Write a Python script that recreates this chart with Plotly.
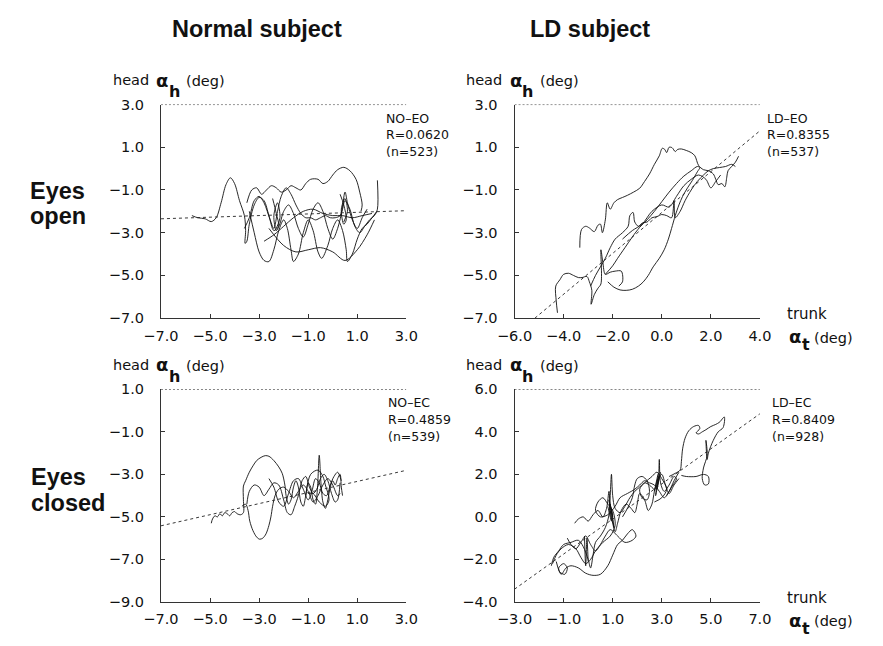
import plotly.graph_objects as go

# ---------------- trace data (trunk angle, head angle), degrees ----------------
# Normal subject, eyes open
no_eo_traces = [
    ([-5.74, -5.5, -5.2, -4.95, -4.75, -4.55, -4.35, -4.17, -4.0, -3.8, -3.6, -3.55, -3.57, -3.5, -3.4, -3.2, -3.0,
      -2.8, -2.6, -2.4, -2.2, -2.0, -1.8, -1.6, -1.4, -1.2, -1.0, -0.8, -0.6, -0.4, -0.2, 0.0, 0.2, 0.4, 0.5, 0.7,
      0.9, 1.1, 1.3, 1.5, 1.7, 1.82, 1.82],
     [-2.2, -2.3, -2.35, -2.48, -2.3, -1.6, -0.75, -0.43, -0.7, -1.5, -2.2, -2.9, -3.5, -3.4, -2.6, -1.7, -1.35,
      -1.5, -2.2, -2.9, -2.7, -2.0, -1.7, -2.1, -2.8, -3.2, -2.6, -1.9, -1.6, -2.0, -2.8, -3.3, -2.8, -1.9, -1.5, -1.9,
      -2.7, -3.0, -2.7, -2.4, -2.2, -1.9, -0.55]),
    ([-3.4, -3.2, -3.0, -2.8, -2.6, -2.4, -2.2, -2.0, -1.85, -1.7, -1.6, -1.4, -1.2, -1.0, -0.8, -0.6, -0.45, -0.2,
      0.0, 0.2, 0.4, 0.55, 0.6, 0.8, 1.0, 1.2, 1.4, 1.6, 1.8],
     [-2.0, -3.0, -3.9, -4.3, -4.35, -3.8, -2.9, -2.4, -2.8, -3.8, -4.35, -4.0, -3.0, -2.4, -2.9, -3.9, -4.2, -3.6,
      -2.8, -2.4, -2.9, -3.8, -4.35, -4.0, -3.3, -2.8, -2.6, -2.3, -2.0]),
    ([-3.5, -3.3, -3.1, -2.9, -2.7, -2.5, -2.3, -2.1, -1.9, -1.7, -1.5, -1.3, -1.1, -0.9, -0.6, -0.4, -0.2, 0.0,
      0.2, 0.45, 0.7, 0.95, 1.1, 1.2, 1.15],
     [-1.6, -1.0, -0.9, -1.2, -1.0, -0.8, -0.9, -1.1, -1.0, -0.8, -0.9, -1.0, -0.7, -0.5, -0.5, -0.7, -0.6, -0.3,
      -0.05, 0.06, -0.1, -0.5, -1.1, -1.7, -2.0]),
    ([-3.6, -3.4, -3.2, -3.0, -2.8, -2.55, -2.4, -2.25, -2.1, -1.9, -1.7, -1.5, -1.3, -1.1, -0.9, -0.7, -0.5, -0.3,
      -0.1, 0.1, 0.3, 0.5, 0.6, 0.8, 1.0, 1.2, 1.4],
     [-2.8, -2.3, -1.5, -1.3, -1.6, -2.4, -2.8, -2.0, -1.3, -0.9, -1.2, -1.7, -2.1, -2.3, -2.3, -2.4, -2.3, -2.2,
      -2.3, -2.3, -2.2, -1.1, -1.6, -2.4, -2.8, -2.3, -1.9]),
    ([-2.8, -2.4, -2.0, -1.6, -1.2, -0.8, -0.4, 0.0, 0.4, 0.8, 1.2, 1.6],
     [-3.4, -3.1, -2.7, -2.3, -2.0, -1.9, -2.1, -2.2, -2.2, -2.3, -2.2, -2.1]),
    ([-2.45, -2.3, -2.2, -2.3, -2.4, -2.25, -2.15, -2.3],
     [-1.4, -2.1, -2.7, -2.9, -2.2, -1.6, -2.3, -2.8]),
    ([0.3, 0.45, 0.55, 0.45, 0.35, 0.5, 0.6, 0.45],
     [-1.2, -1.7, -2.4, -2.6, -1.9, -1.4, -2.0, -2.5]),
    ([-2.6, -2.0, -1.5, -1.0, -0.5, 0.0, 0.5, 1.0, 1.4, 1.7],
     [-2.8, -3.6, -3.9, -3.8, -3.7, -3.9, -4.3, -3.8, -3.1, -2.4]),
]

# LD subject, eyes open
ld_eo_traces = [
    ([-3.34, -3.27, -3.1, -2.95, -2.75, -2.6, -2.5, -2.42, -2.3, -2.22, -2.1, -1.95, -1.8, -1.6, -1.4, -1.15, -0.9,
      -0.7, -0.5, -0.3, -0.1, 0.02, 0.12, 0.2, 0.3, 0.42, 0.55, 0.65, 0.8, 1.0, 1.2, 1.35, 1.5, 1.7, 1.9, 2.1, 2.2,
      2.3, 2.45, 2.57, 2.65, 2.7, 2.85, 3.0, 3.13],
     [-3.7, -2.85, -2.7, -2.78, -2.95, -2.65, -2.6, -3.0, -2.4, -1.6, -1.9, -1.6, -1.45, -1.35, -1.25, -1.1, -0.92,
      -0.6, -0.25, 0.2, 0.6, 0.95, 0.9, 0.75, 1.0, 0.98, 0.8, 0.9, 0.92, 0.85, 0.75, 0.6, 0.15, -0.05, -0.1, -0.25,
      -0.5, -0.75, -0.7, -0.85, -0.4, -0.1, 0.1, 0.3, 0.58]),
    ([-2.2, -1.95, -1.7, -1.45, -1.2, -0.95, -0.75, -0.55, -0.35, -0.1, 0.1, 0.27, 0.4, 0.55, 0.7, 0.85, 1.05,
      1.25, 1.45, 1.55, 1.45, 1.2, 0.9, 0.6, 0.3, 0.0, -0.3, -0.6, -0.9, -1.2, -1.5, -1.8, -2.0, -2.3],
     [-5.3, -5.55, -5.68, -5.7, -5.65, -5.5, -5.3, -5.0, -4.6, -4.2, -3.8, -3.3, -2.8, -2.2, -1.7, -1.3, -0.9,
      -0.55, -0.15, 0.05, 0.1, -0.1, -0.35, -0.7, -1.1, -1.55, -2.0, -2.4, -2.75, -3.2, -3.7, -4.2, -4.55, -4.95]),
    ([-4.25, -4.3, -4.32, -4.15, -4.0, -3.8, -3.6, -3.4, -3.25, -3.05, -2.95, -2.85, -2.88, -2.75, -2.6, -2.48,
      -2.48, -2.4, -2.3, -2.1, -1.9, -1.65, -1.6, -1.75],
     [-6.75, -6.2, -5.5, -5.2, -4.95, -4.9, -5.0, -5.1, -5.1, -5.05, -5.3, -5.7, -6.35, -5.9, -5.6, -5.4,
      -3.8, -4.4, -4.95, -4.85, -4.8, -4.8, -5.3, -5.5]),
    ([-2.9, -2.7, -2.5, -2.3, -2.1, -1.9, -1.6, -1.37, -1.3, -1.17, -1.1, -0.95, -0.8, -0.6, -0.4, -0.2, 0.0, 0.2,
      0.4, 0.5, 0.55, 0.75, 0.95, 1.2, 1.45, 1.7, 1.9, 2.1, 2.35, 2.6, 2.85, 3.0],
     [-5.5, -5.0, -4.6, -4.2, -3.7, -3.3, -3.0, -2.7, -2.2, -2.05, -2.5, -2.7, -2.55, -2.5, -2.3, -2.25, -2.15,
      -2.2, -2.3, -1.5, -2.3, -2.0, -1.5, -1.0, -0.6, -0.3, -0.1, 0.0, 0.05, 0.1, 0.2, 0.1]),
    ([-1.6, -1.2, -0.8, -0.4, 0.0, 0.3, 0.6, 0.9, 1.2, 1.5, 1.8, 2.0, 2.2, 2.4],
     [-3.3, -2.9, -2.6, -2.0, -1.7, -1.8, -1.3, -0.8, -0.5, -0.3, -0.5, -0.9, -0.6, -0.3]),
]

# Normal subject, eyes closed
no_ec_traces = [
    ([-4.95, -4.9, -4.8, -4.7, -4.6, -4.5, -4.4, -4.3, -4.2, -4.1, -4.0, -3.9, -3.75, -3.64, -3.64, -3.64, -3.55,
      -3.4, -3.25, -3.1, -2.92, -2.75, -2.6, -2.4, -2.2, -2.06, -1.95, -1.9, -1.8, -1.7, -1.6, -1.5, -1.4, -1.3,
      -1.2, -1.1, -1.0, -0.9, -0.8, -0.7, -0.62, -0.55, -0.48, -0.4, -0.3, -0.2, -0.1, 0.0, 0.1, 0.2, 0.3, 0.35, 0.4],
     [-5.3, -5.1, -4.95, -5.0, -4.85, -4.95, -4.8, -4.85, -4.95, -4.8, -4.75, -4.85, -4.9, -4.8, -4.2, -3.55, -3.3,
      -2.9, -2.6, -2.35, -2.2, -2.12, -2.15, -2.35, -2.65, -2.95, -3.5, -4.0, -4.4, -4.2, -3.6, -3.3, -3.6, -4.3,
      -4.5, -4.0, -3.4, -3.6, -4.2, -4.4, -3.6, -2.1, -3.4, -4.3, -4.6, -4.2, -3.6, -3.3, -3.5, -3.2, -3.0, -3.6, -4.0]),
    ([-3.7, -3.55, -3.45, -3.38, -3.25, -3.1, -2.98, -2.85, -2.72, -2.6, -2.52, -2.45, -2.35, -2.2, -2.0, -1.8,
      -1.6, -1.4, -1.2, -1.0, -0.8, -0.6, -0.4, -0.2, 0.0, 0.2, 0.3],
     [-4.5, -4.4, -4.7, -5.2, -5.65, -5.95, -6.05, -6.0, -5.8, -5.4, -5.0, -4.5, -4.0, -3.7, -3.6, -3.8,
      -4.1, -3.8, -3.5, -3.8, -4.3, -4.0, -3.5, -3.2, -3.5, -4.0, -3.9]),
    ([-3.5, -3.4, -3.2, -3.0, -2.8, -2.6, -2.4, -2.2, -2.0, -1.85, -1.7, -1.55, -1.4, -1.25, -1.1, -0.95, -0.8,
      -0.65, -0.5, -0.35, -0.2, -0.05, 0.1, 0.2, 0.3],
     [-4.4, -3.8, -3.5, -3.6, -4.0, -3.7, -3.4, -3.5, -4.2, -4.8, -4.9, -4.5, -4.0, -3.3, -3.1, -3.6, -3.9,
      -3.7, -3.2, -3.0, -3.3, -3.9, -4.3, -4.2, -3.4]),
    ([-1.1, -0.9, -0.6, -0.4, -0.3, -0.15, -0.3, -0.55, -0.8, -1.0],
     [-4.0, -3.0, -2.8, -3.1, -3.5, -4.2, -4.5, -4.3, -3.9, -3.9]),
    ([-2.6, -2.4, -2.2, -2.0, -1.8, -1.6, -1.4, -1.2, -1.0, -0.85, -0.7, -0.55, -0.4, -0.25, -0.1, 0.05, 0.2, 0.35],
     [-3.2, -3.6, -4.3, -4.5, -3.9, -3.3, -3.2, -3.7, -4.2, -3.8, -3.2, -3.4, -3.9, -4.0, -3.5, -3.1, -2.9, -3.3]),
]

# LD subject, eyes closed
ld_ec_traces = [
    ([3.3, 3.55, 3.75, 3.8, 3.85, 3.95, 4.1, 4.3, 4.5, 4.55, 4.4, 4.5, 4.65, 4.8, 5.0, 5.2, 5.35, 5.55, 5.5, 5.3,
      5.1, 4.9, 4.85, 4.8, 4.85, 4.7, 4.65, 4.75, 4.9, 4.9, 4.7, 4.4, 4.0, 3.8],
     [1.9, 2.05, 2.2, 2.6, 3.2, 3.7, 4.05, 4.25, 4.3, 4.15, 3.95, 3.9, 4.0, 4.1, 4.25, 4.35, 4.45, 4.7, 4.2, 4.0,
      3.6, 3.0, 2.7, 3.6, 2.9, 2.3, 1.8, 1.5, 1.55, 1.9, 2.0, 1.9, 1.9, 1.95]),
    ([-1.5, -1.4, -1.2, -1.0, -0.7, -0.4, -0.2, 0.0, 0.1, 0.2, 0.3, 0.5, 0.7, 0.85, 0.9, 0.95, 1.0, 1.1, 1.3,
      1.5, 1.7, 1.9, 2.1, 2.3, 2.5, 2.7, 2.85, 2.9, 2.95, 3.1, 3.3, 3.5, 3.6, 3.4, 3.2],
     [-2.3, -1.9, -1.6, -1.3, -1.2, -1.1, -1.4, -2.0, -2.4, -1.8, -1.2, -0.9, -0.5, 0.1, 1.0, 2.0, 1.0, 0.4, 0.2,
      0.5, 0.9, 1.2, 1.4, 1.6, 1.5, 1.3, 1.7, 2.7, 1.6, 1.2, 1.5, 1.9, 1.8, 1.4, 1.0]),
    ([-1.3, -1.1, -0.9, -0.7, -0.4, -0.1, 0.2, 0.5, 0.8, 1.0, 1.2, 1.4, 1.6, 1.8, 1.95, 1.8, 1.5, 1.2, 0.9, 0.7,
      0.5, 0.3, 0.1, -0.1, -0.3, -0.5, -0.7, -0.85],
     [-2.1, -2.7, -2.4, -2.3, -2.4, -2.65, -2.75, -2.7, -2.3, -1.8, -1.3, -1.1, -0.8, -0.6, -0.9, -1.1, -1.2, -0.9,
      -0.6, -0.9, -1.3, -1.6, -1.3, -0.9, -1.2, -1.5, -1.3, -1.0]),
    ([-0.55, -0.4, -0.2, 0.0, 0.2, 0.4, 0.6, 0.75, 0.85, 0.9, 1.0, 1.1, 1.2, 1.35, 1.55, 1.75, 1.9, 2.0, 2.1,
      2.3, 2.45, 2.6, 2.7, 2.85, 3.0, 3.15, 3.3, 3.5, 3.7],
     [-0.3, -0.1, 0.0, -0.2, 0.1, 0.3, 0.0, 0.4, 1.2, 0.3, -0.3, -0.7, -0.3, 0.3, 0.6, 0.4, 0.2, 0.6, 1.1,
      0.8, 0.3, 0.6, 1.2, 1.8, 2.0, 1.5, 1.1, 1.5, 1.8]),
    ([0.8, 0.95, 0.85, 1.0, 0.9, 1.05, 0.95],
     [0.5, -0.2, 0.8, 0.0, 0.6, -0.5, 0.4]),
    ([2.7, 2.85, 2.75, 2.9, 2.8, 2.95],
     [1.2, 2.0, 1.0, 1.9, 1.3, 2.1]),
    ([-0.15, -0.1, -0.05, 0.0],
     [-0.9, -2.3, -1.0, -2.1]),
    ([-1.45, -1.3, -1.1, -0.8, -0.5, -0.3, -0.1, 0.1, 0.3, 0.6, 0.9, 1.1, 1.0, 0.8, 0.6, 0.4, 0.3, 0.5, 0.8, 1.1,
      1.3, 1.6, 1.9, 2.1, 2.3, 2.5, 2.7, 2.9, 3.1, 3.3, 3.5, 3.7],
     [-2.2, -1.8, -1.5, -1.3, -1.5, -1.9, -2.2, -2.0, -1.6, -1.2, -0.9, -0.4, 0.3, 0.6, 0.9, 0.7, 0.3, 0.0, 0.1, 0.5,
      0.9, 1.1, 1.3, 1.5, 1.7, 1.6, 1.5, 1.2, 0.9, 1.2, 1.7, 2.1]),
    ([-1.2, -1.0, -0.85, -0.95, -1.15, -1.2],
     [-2.4, -2.2, -2.4, -2.7, -2.6, -2.4]),
    ([1.4, 1.6, 1.8, 1.9, 2.0, 2.2, 2.4, 2.5, 2.4, 2.2, 2.1, 2.3, 2.6, 2.8, 3.0, 3.2, 3.0, 2.7],
     [0.0, 0.4, 0.9, 1.5, 1.8, 1.9, 1.7, 1.2, 0.8, 0.9, 1.3, 1.6, 1.9, 2.1, 1.8, 1.3, 0.9, 0.7]),
]

# Regression line end points (trunk, head)
fit_no_eo = ([-7.0, 3.0], [-2.35, -1.97])
fit_ld_eo = ([-5.17, 4.0], [-7.0, 1.77])
fit_no_ec = ([-7.0, 3.0], [-5.42, -2.81])
fit_ld_ec = ([-3.0, 7.0], [-3.4, 4.85])

# Axis tick values (first and last also give the axis range)
x_ticks_no = [-7.0, -5.0, -3.0, -1.0, 1.0, 3.0]
x_ticks_ld_eo = [-6.0, -4.0, -2.0, 0.0, 2.0, 4.0]
x_ticks_ld_ec = [-3.0, -1.0, 1.0, 3.0, 5.0, 7.0]
y_ticks_eo = [-7.0, -5.0, -3.0, -1.0, 1.0, 3.0]
y_ticks_no_ec = [-9.0, -7.0, -5.0, -3.0, -1.0, 1.0]
y_ticks_ld_ec = [-4.0, -2.0, 0.0, 2.0, 4.0, 6.0]

panel_labels = [
    ["NO–EO", "R=0.0620", "(n=523)"],
    ["LD–EO", "R=0.8355", "(n=537)"],
    ["NO–EC", "R=0.4859", "(n=539)"],
    ["LD–EC", "R=0.8409", "(n=928)"],
]

W, H = 883, 646
FONT = "DejaVu Sans"
INK = "#111"
TICK_FONT = dict(family=FONT, size=14.5, color=INK)


def px_x(p):
    return p / W


def px_y(p):
    return 1 - p / H


def label(x, y, text, size, family=FONT, bold=False, xanchor="left"):
    return dict(x=px_x(x), y=px_y(y), xref="paper", yref="paper", xanchor=xanchor, yanchor="middle",
                showarrow=False, text=text, borderpad=0,
                font=dict(family=family, size=size, color=INK, weight="bold" if bold else "normal"))


panels = [
    # traces, fit, xticks, yticks, x pixel span, y pixel span, stats x position
    (no_eo_traces, fit_no_eo, x_ticks_no, y_ticks_eo, (148, 402), (99, 318), 380),
    (ld_eo_traces, fit_ld_eo, x_ticks_ld_eo, y_ticks_eo, (514, 768), (99, 318), 774),
    (no_ec_traces, fit_no_ec, x_ticks_no, y_ticks_no_ec, (148, 402), (391, 609), 382),
    (ld_ec_traces, fit_ld_ec, x_ticks_ld_ec, y_ticks_ld_ec, (514, 768), (391, 609), 779),
]

fig = go.Figure()
layout = {}
annotations = []

for i, (traces, fit, xt, yt, xs, ys, sx) in enumerate(panels):
    n = "" if i == 0 else str(i + 1)
    xa, ya = "x" + n, "y" + n
    for tx, ty in traces:
        fig.add_trace(go.Scatter(x=tx, y=ty, mode="lines", xaxis=xa, yaxis=ya,
                                 line=dict(color=INK, width=0.9, shape="spline", smoothing=0.9),
                                 hoverinfo="skip"))
    # regression line
    fig.add_trace(go.Scatter(x=fit[0], y=fit[1], mode="lines", xaxis=xa, yaxis=ya,
                             line=dict(color="#222", width=0.9, dash="3px,3px"), hoverinfo="skip"))
    # dotted top border at the maximum of the head axis
    fig.add_trace(go.Scatter(x=[xt[0], xt[-1]], y=[yt[-1], yt[-1]], mode="lines", xaxis=xa, yaxis=ya,
                             line=dict(color="#222", width=0.9, dash="2px,2px"), hoverinfo="skip"))
    common = dict(showgrid=False, zeroline=False, showline=True, linecolor="#333", linewidth=1.2,
                  ticks="inside", ticklen=4, tickcolor="#333", tickwidth=1, tickfont=TICK_FONT,
                  tickformat=".1f", fixedrange=True)
    layout["xaxis" + n] = dict(common, domain=[px_x(xs[0]), px_x(xs[1])], range=[xt[0], xt[-1]],
                               tickvals=xt, anchor=ya, ticklabelstandoff=4)
    layout["yaxis" + n] = dict(common, domain=[px_y(ys[1]), px_y(ys[0])], range=[yt[0], yt[-1]],
                               tickvals=yt, anchor=xa, ticklabelstandoff=13)

    # head axis title: head α_h (deg)
    hx, hy = xs[0] - 51, ys[0] - 25
    annotations += [
        label(hx, hy, "head", 14.5),
        label(hx + 45, hy, "α", 18, bold=True),
        label(hx + 58, hy + 12, "h", 16, bold=True),
        label(hx + 76, hy + 1, "(deg)", 14.5),
    ]
    # panel statistics
    for k, line in enumerate(panel_labels[i]):
        annotations.append(label(sx, ys[0] + 14 + 17 * k, line, 12.5))
    # trunk axis title on the LD panels
    if i % 2 == 1:
        b = ys[1]
        annotations += [
            label(795, b - 4, "trunk", 15),
            label(797, b + 19, "α", 18, bold=True),
            label(811, b + 27, "t", 16, bold=True),
            label(823, b + 20, "(deg)", 14.5),
        ]

# column and row headings
TITLE = "Liberation Sans"
annotations += [
    label(247, 22, "Normal subject", 23.5, family=TITLE, bold=True, xanchor="center"),
    label(592, 22, "LD subject", 23.5, family=TITLE, bold=True, xanchor="center"),
    label(11, 188, "Eyes", 23.5, family=TITLE, bold=True),
    label(11, 213, "open", 23.5, family=TITLE, bold=True),
    label(12, 481, "Eyes", 23.5, family=TITLE, bold=True),
    label(12, 508, "closed", 23.5, family=TITLE, bold=True),
]

fig.update_layout(
    width=W, height=H, margin=dict(l=0, r=0, t=0, b=0),
    paper_bgcolor="white", plot_bgcolor="white", showlegend=False,
    annotations=annotations, **layout,
)

fig.write_html("out.html", config={"displayModeBar": False},
               post_script="document.body.style.margin='0';document.body.style.overflow='hidden';")
